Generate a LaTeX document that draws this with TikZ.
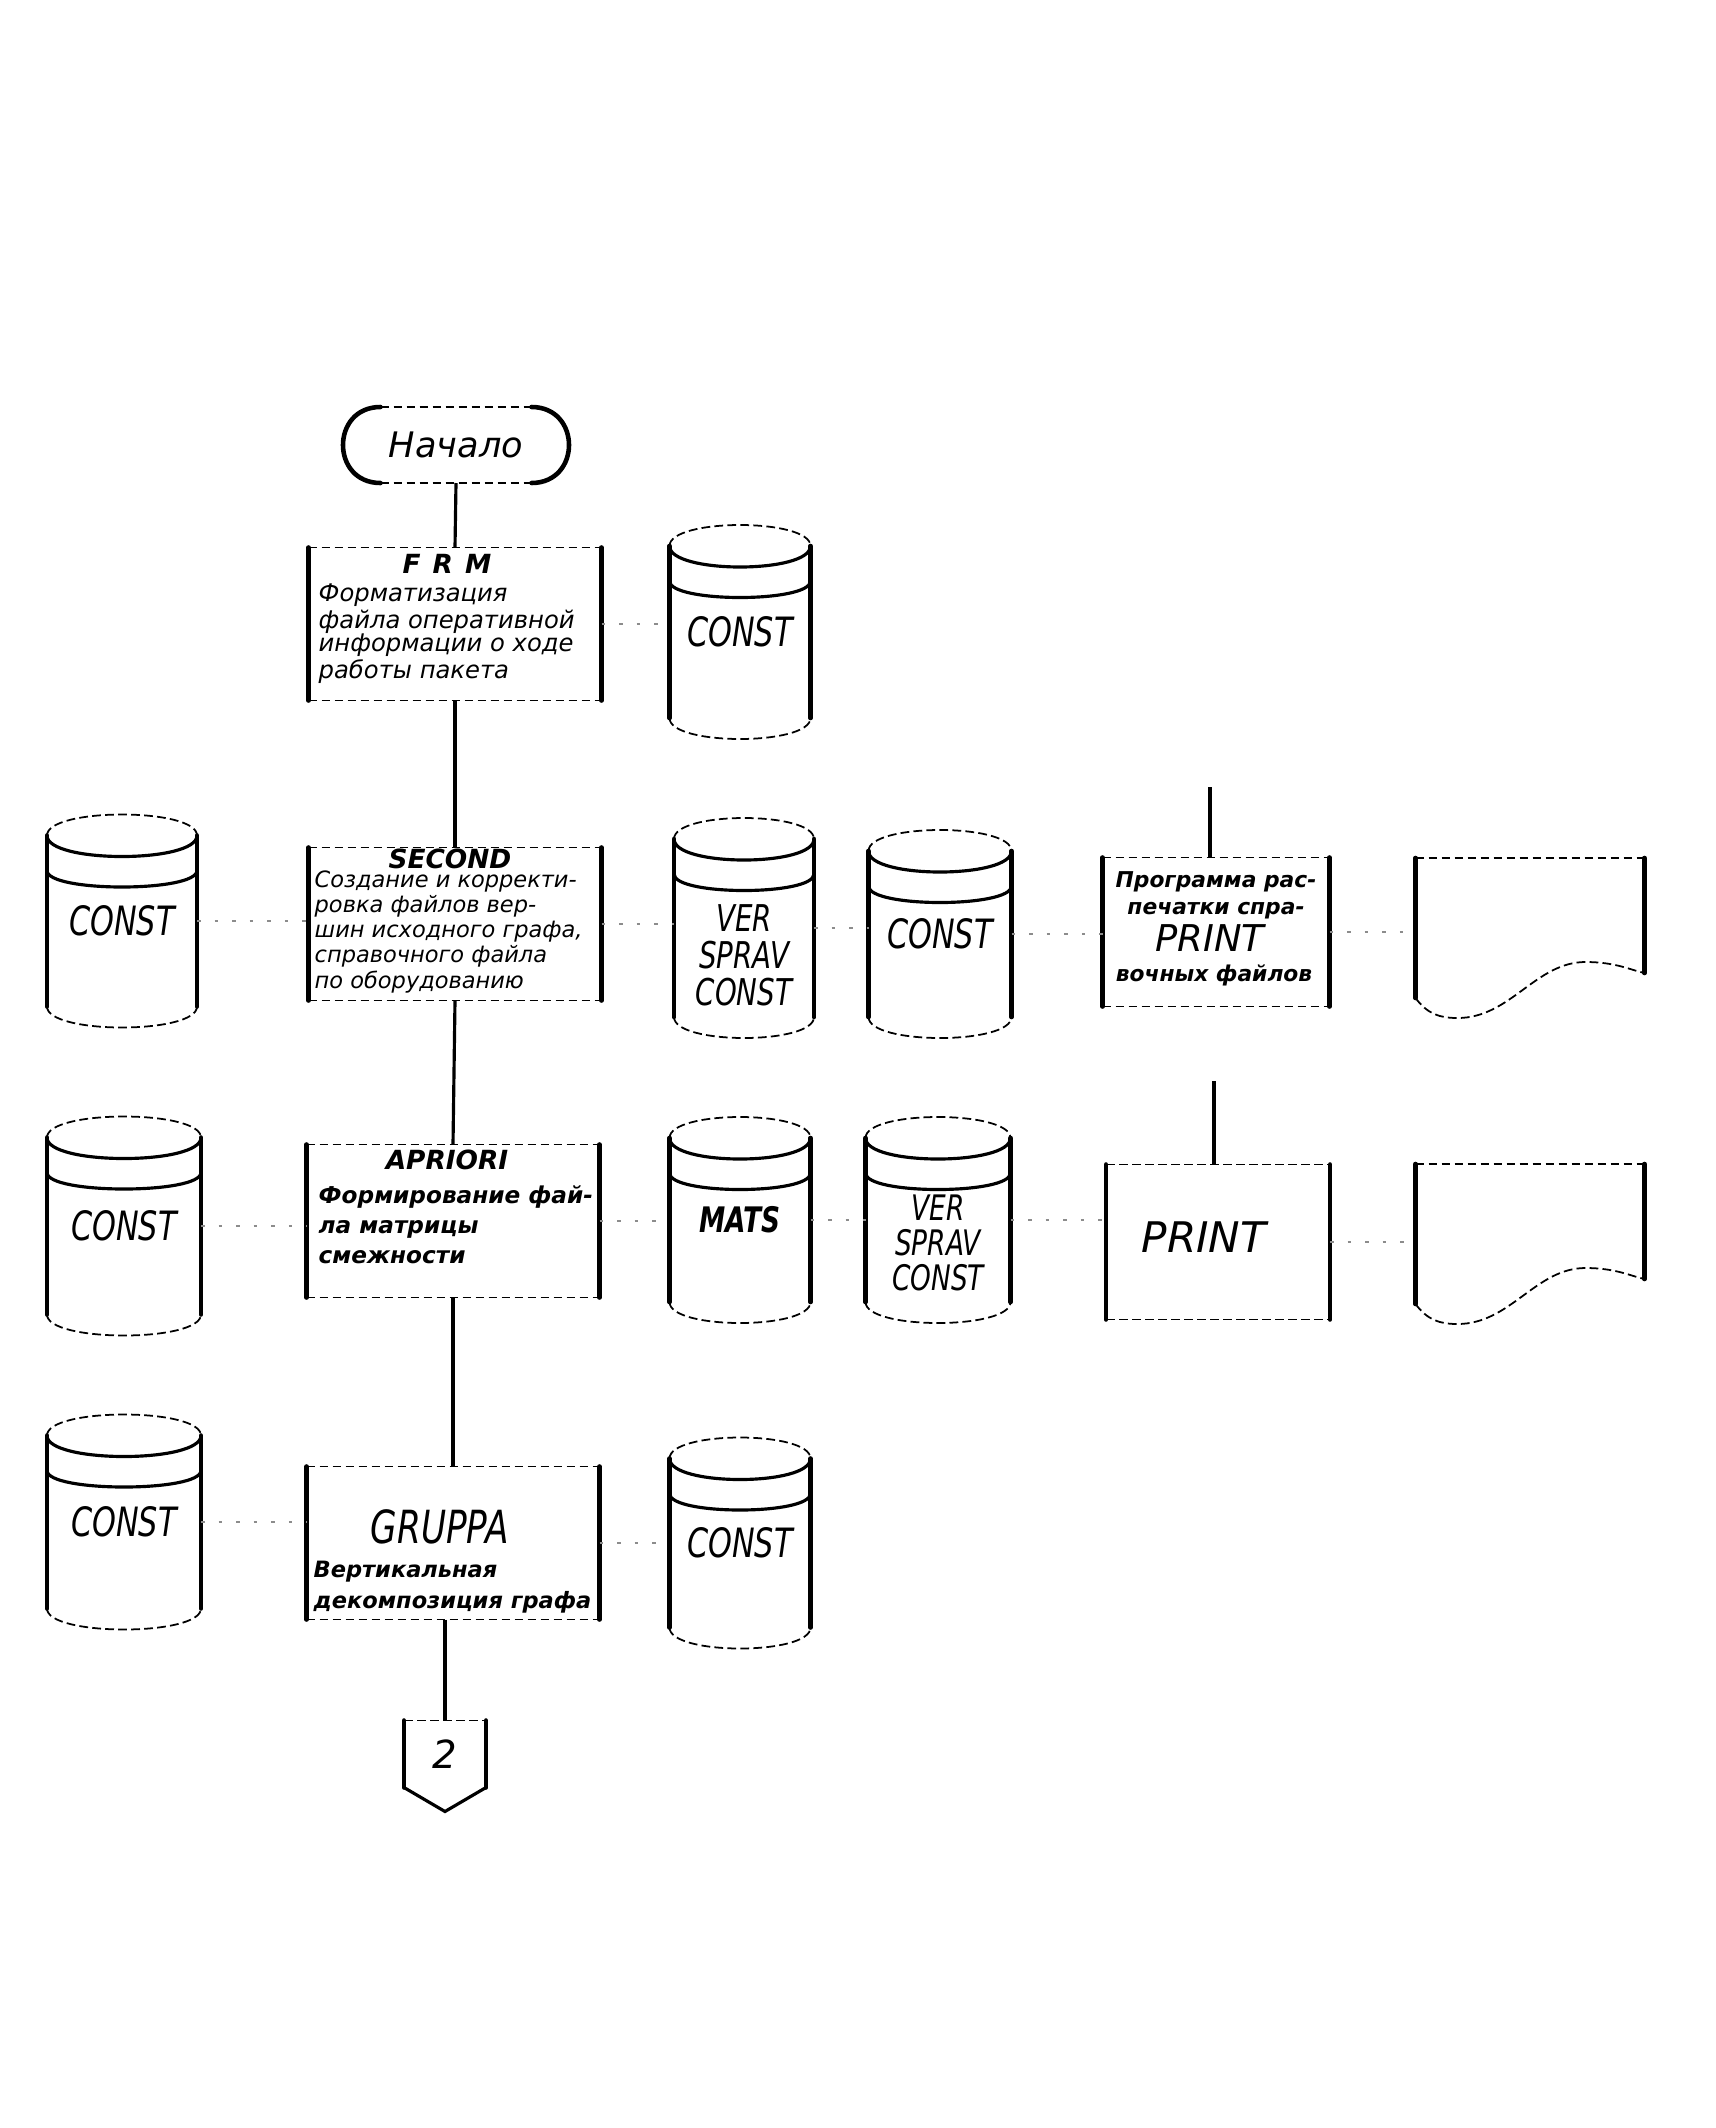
\documentclass[tikz,border=0pt]{standalone}
\usepackage{fontspec}
\setmainfont{DejaVu Sans}
\newfontfamily\hand{DejaVu Sans}
\newfontfamily\capsf{DejaVu Sans}[FakeStretch=0.75]
\usetikzlibrary{calc}

\tikzset{
  side/.style={line width=1.3pt, line cap=round},
  rim/.style={line width=0.9pt},
  faint/.style={line width=0.5pt, dash pattern=on 2.5pt off 1.2pt},
  flow/.style={line width=0.9pt},
  ghost/.style={black!45, line width=0.5pt, dash pattern=on 1pt off 4pt},
  bare/.style={inner sep=0pt, outer sep=0pt},
  procbox/.style={bare, minimum width=29.3mm, minimum height=15.3mm},
  disk/.style={bare, align=center, font=\capsf\itshape\fontsize{11.5}{11.4}\selectfont},
  docbox/.style={bare, minimum width=22.9mm, minimum height=16mm},
  hand/.style={inner sep=0pt, align=left, font=\hand\itshape\fontsize{6.9}{6.5}\selectfont},
  heavy/.style={inner sep=0pt, align=left, font=\hand\itshape\bfseries\fontsize{6.6}{8.5}\selectfont},
  heading/.style={inner sep=0pt, font=\hand\itshape\bfseries\fontsize{7.5}{8}\selectfont},
}

\begin{document}
\begin{tikzpicture}[x=0.1mm, y=-0.1mm]
  \useasboundingbox (0,0) rectangle (1715,2128);
  \fill[white] (0,0) rectangle (1715,2128);

  % main chain
  \node[bare, minimum width=22.7mm, minimum height=7.6mm,
        font=\hand\itshape\fontsize{10}{12}\selectfont] (nach) at (456,445) {Начало};
  \node[procbox] (frm) at (455,624) {};
  \node[procbox] (second) at (455,924) {};
  \node[procbox] (apriori) at (453,1221) {};
  \node[procbox] (gruppa) at (453,1543) {};
  \node[bare, minimum width=8.2mm, minimum height=6.7mm,
        font=\hand\itshape\fontsize{11}{12}\selectfont] (cont) at (445,1754) {2};

  % texts of the program boxes
  \node[heading] (frmN) at (447,564) {F\hspace{1.2mm}R\hspace{1.2mm}M};
  \node[hand, anchor=north west] (frmD) at (318,583)
    {Форматизация\\файла оперативной\\информации о ходе\\работы пакета};
  \node[heading] (secN) at (450,859) {SECOND};
  \node[hand, anchor=north west, font=\hand\itshape\fontsize{6.4}{5.5}\selectfont] (secD) at (314,870)
    {Создание и корректи-\\ровка файлов вер-\\шин исходного графа,\\справочного файла\\по оборудованию};
  \node[heading] (aprN) at (447,1160) {APRIORI};
  \node[heavy, anchor=north west] (aprD) at (318,1185)
    {Формирование фай-\\ла матрицы\\смежности};
  \node[bare, font=\capsf\itshape\fontsize{13}{13}\selectfont] (grpN) at (440,1527) {GRUPPA};
  \node[heavy, anchor=north west, font=\hand\itshape\bfseries\fontsize{6.4}{8.8}\selectfont] (grpD) at (313,1560)
    {Вертикальная\\декомпозиция графа};

  % disks
  \node[disk, minimum width=14.1mm, minimum height=21.4mm] (c1) at (740,632) {CONST};
  \node[disk, minimum width=15mm, minimum height=21.3mm] (l2) at (122,921) {CONST};
  \node[disk, minimum width=14mm, minimum height=22mm] (v2) at (744,928) {};
  \node[disk, font=\capsf\itshape\fontsize{10.5}{10.5}\selectfont] (v2t) at (744,955) {VER\\SPRAV\\CONST};
  \node[disk, minimum width=14.3mm, minimum height=20.8mm] (cB) at (940,934) {CONST};
  \node[disk, minimum width=15.4mm, minimum height=21.9mm] (l3) at (124,1226) {CONST};
  \node[disk, minimum width=14.1mm, minimum height=20.6mm,
        font=\capsf\itshape\bfseries\fontsize{10}{11}\selectfont] (mats) at (740,1220) {MATS};
  \node[disk, minimum width=14.5mm, minimum height=20.6mm] (v3) at (938,1220) {};
  \node[disk, font=\capsf\itshape\fontsize{10}{10}\selectfont] (v3t) at (938,1243) {VER\\SPRAV\\CONST};
  \node[disk, minimum width=15.4mm, minimum height=21.5mm] (l4) at (124,1522) {CONST};
  \node[disk, minimum width=14.1mm, minimum height=21.1mm] (c4) at (740,1543) {CONST};

  % print boxes and documents
  \node[bare, minimum width=22.7mm, minimum height=14.9mm] (prA) at (1216,932) {};
  \node[heavy, align=center, font=\hand\itshape\bfseries\fontsize{6.2}{7.7}\selectfont] (prAT) at (1216,895)
    {Программа рас-\\печатки спра-};
  \node[bare, font=\hand\itshape\fontsize{10.5}{12}\selectfont] (prAP) at (1210,938) {PRINT};
  \node[heavy, font=\hand\itshape\bfseries\fontsize{6.2}{7.7}\selectfont] (prAB) at (1214,975) {вочных файлов};
  \node[bare, minimum width=22.4mm, minimum height=15.5mm] (prB) at (1218,1242) {};
  \node[bare, font=\hand\itshape\fontsize{12}{13}\selectfont] (prBP) at (1204,1237) {PRINT};
  \node[docbox] (dA) at (1530,938) {};
  \node[docbox] (dB) at (1530,1244) {};
  \coordinate (inA) at (1210,787);
  \coordinate (inB) at (1214,1081);

  % outlines
  \draw[faint] ($(nach.north west)+(38,0)$) -- ($(nach.north east)+(-38,0)$);
  \draw[faint] ($(nach.south west)+(38,0)$) -- ($(nach.south east)+(-38,0)$);
  \draw[side] ($(nach.north west)+(38,0)$) .. controls ($(nach.north west)+(-12,0)$)
    and ($(nach.south west)+(-12,0)$) .. ($(nach.south west)+(38,0)$);
  \draw[side] ($(nach.north east)+(-38,0)$) .. controls ($(nach.north east)+(12,0)$)
    and ($(nach.south east)+(12,0)$) .. ($(nach.south east)+(-38,0)$);

  \foreach \n in {frm,second,apriori,gruppa,prA,prB,cont}{
    \draw[side] (\n.north west) -- (\n.south west);
    \draw[side] (\n.north east) -- (\n.south east);
    \draw[faint] (\n.north west) -- (\n.north east);
  }
  \foreach \n in {frm,second,apriori,gruppa,prA,prB}
    \draw[faint] (\n.south west) -- (\n.south east);
  \draw[rim] (cont.south west) -- ($(cont.south)+(0,24)$) -- (cont.south east);

  \foreach \n in {c1,l2,v2,cB,l3,mats,v3,l4,c4}{
    \draw[side] ($(\n.north west)+(0,21)$) -- ($(\n.south west)+(0,-21)$);
    \draw[side] ($(\n.north east)+(0,21)$) -- ($(\n.south east)+(0,-21)$);
    \draw[faint] ($(\n.north west)+(0,21)$) .. controls +(0,-28) and +(0,-28) .. ($(\n.north east)+(0,21)$);
    \draw[rim] ($(\n.north west)+(0,21)$) .. controls +(0,28) and +(0,28) .. ($(\n.north east)+(0,21)$);
    \draw[rim] ($(\n.north west)+(0,56)$) .. controls +(0,22) and +(0,22) .. ($(\n.north east)+(0,56)$);
    \draw[faint] ($(\n.south west)+(0,-21)$) .. controls +(0,28) and +(0,28) .. ($(\n.south east)+(0,-21)$);
  }

  \foreach \n in {dA,dB}{
    \draw[side] (\n.north west) -- ($(\n.south west)+(0,-20)$);
    \draw[side] (\n.north east) -- ($(\n.south east)+(0,-45)$);
    \draw[faint] (\n.north west) -- (\n.north east);
    \draw[faint] ($(\n.south west)+(0,-20)$) .. controls ($(\n.south west)+(12,-4)$)
      and ($(\n.south west)+(24,0)$) .. ($(\n.south west)+(42,0)$)
      .. controls ($(\n.south west)+(95,0)$) and ($(\n.south west)+(120,-56)$) .. ($(\n.south west)+(170,-56)$)
      .. controls ($(\n.south west)+(200,-56)$) and ($(\n.south west)+(215,-48)$) .. ($(\n.south east)+(0,-45)$);
  }

  % connectors
  \draw[flow] (nach.south) -- (frm.north);
  \draw[flow] (frm.south) -- (second.north);
  \draw[flow] (second.south) -- (apriori.north);
  \draw[flow] (apriori.south) -- (gruppa.north);
  \draw[flow] (cont.north |- gruppa.south) -- (cont.north);
  \draw[flow] (inA) -- (inA |- prA.north);
  \draw[flow] (inB) -- (inB |- prB.north);

  % faded links along the rows
  \draw[ghost] (frm.east) -- (frm.east -| c1.west);
  \draw[ghost] (l2.east) -- (l2.east -| second.west);
  \draw[ghost] (second.east) -- (second.east -| v2.west);
  \draw[ghost] (v2.east) -- (v2.east -| cB.west);
  \draw[ghost] (cB.east) -- (cB.east -| prA.west);
  \draw[ghost] (prA.east) -- (prA.east -| dA.west);
  \draw[ghost] (l3.east) -- (l3.east -| apriori.west);
  \draw[ghost] (apriori.east) -- (apriori.east -| mats.west);
  \draw[ghost] (mats.east) -- (mats.east -| v3.west);
  \draw[ghost] (v3.east) -- (v3.east -| prB.west);
  \draw[ghost] (prB.east) -- (prB.east -| dB.west);
  \draw[ghost] (l4.east) -- (l4.east -| gruppa.west);
  \draw[ghost] (gruppa.east) -- (gruppa.east -| c4.west);
\end{tikzpicture}
\end{document}
